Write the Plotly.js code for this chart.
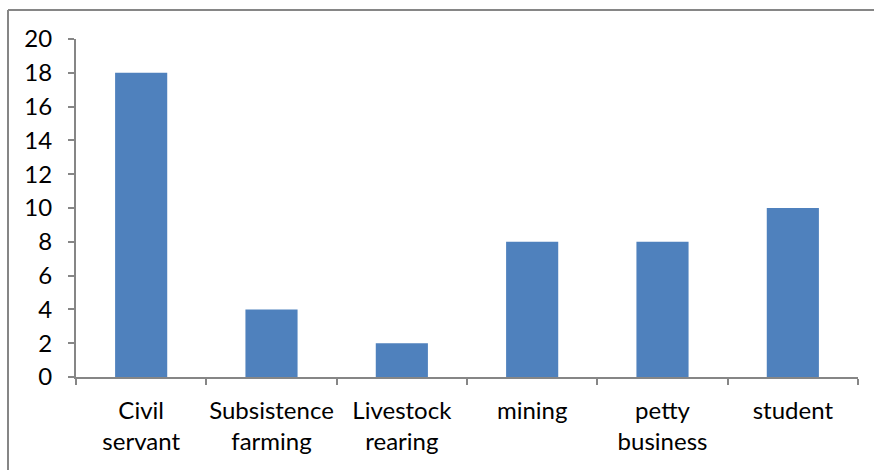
<!DOCTYPE html>
<html>
<head>
<meta charset="utf-8">
<script src="https://cdn.plot.ly/plotly-3.0.1.min.js"></script>
<style>
html,body{margin:0;padding:0;background:#fff;}
#chart{width:874px;height:470px;}
</style>
</head>
<body>
<div id="chart"></div>
<script>
const categories = ["Civil<br>servant", "Subsistence<br>farming", "Livestock<br>rearing", "mining", "petty<br>business", "student"];
const values = [18, 4, 2, 8, 8, 10];
const yTicks = [0, 2, 4, 6, 8, 10, 12, 14, 16, 18, 20];

const L = 76, R = 16, T = 39, B = 93, W = 874, H = 470;
const pw = W - L - R, ph = H - T - B;
const px = x => (x - L) / pw;
const py = y => (H - B - y) / ph;

const trace = {
  type: 'bar',
  x: categories,
  y: values,
  marker: {color: '#4F81BD', line: {width: 0}},
  hoverinfo: 'skip'
};

const axisColor = '#868686';
const layout = {
  width: W, height: H,
  margin: {l: L, r: R, t: T, b: B, pad: 0},
  paper_bgcolor: '#fff', plot_bgcolor: '#fff',
  showlegend: false,
  bargap: 0.6,
  font: {family: 'Lato, "Open Sans", sans-serif', size: 24, color: '#000'},
  xaxis: {
    type: 'category',
    tickangle: 0,
    showline: true, linecolor: axisColor, linewidth: 2,
    ticks: 'outside', tickson: 'boundaries', ticklen: 6, tickcolor: axisColor, tickwidth: 2,
    showgrid: false, zeroline: false,
    tickfont: {size: 24},
    ticklabelstandoff: 11
  },
  yaxis: {
    range: [0, 20],
    tickvals: yTicks,
    ticktext: yTicks.map(String),
    showline: true, linecolor: axisColor, linewidth: 2,
    ticks: 'outside', ticklen: 6, tickcolor: axisColor, tickwidth: 2,
    showgrid: false, zeroline: false,
    tickfont: {size: 24},
    ticklabelstandoff: 11
  },
  shapes: [
    {type: 'line', xref: 'paper', yref: 'paper', x0: px(8), x1: px(8), y0: py(10), y1: py(480), line: {color: axisColor, width: 2}},
    {type: 'line', xref: 'paper', yref: 'paper', x0: px(8), x1: px(880), y0: py(10), y1: py(10), line: {color: axisColor, width: 2}}
  ]
};

Plotly.newPlot('chart', [trace], layout, {displayModeBar: false, staticPlot: true});
</script>
</body>
</html>
